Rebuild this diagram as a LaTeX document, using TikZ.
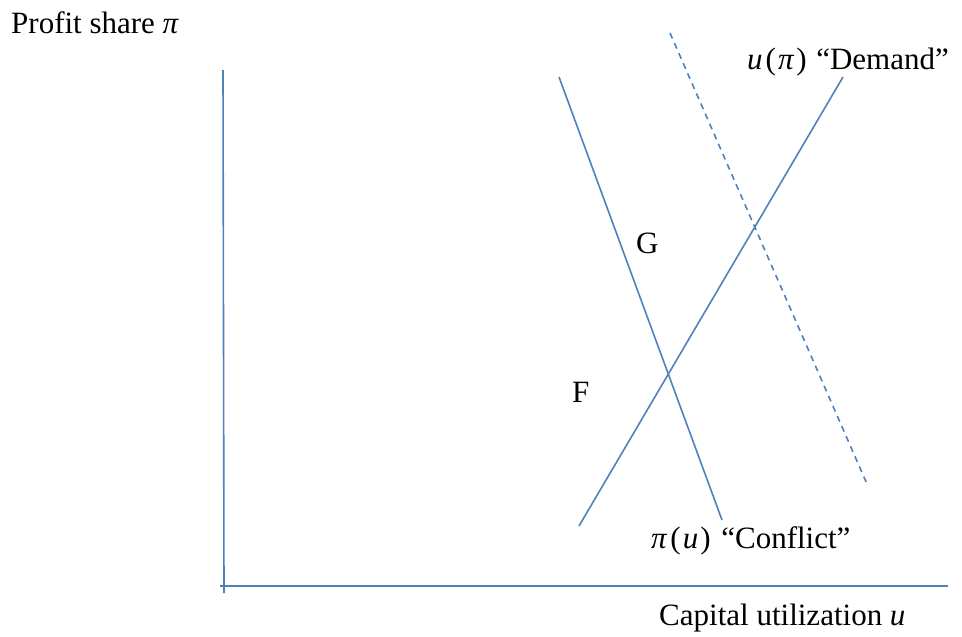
\documentclass[tikz,border=0pt]{standalone}
\usepackage{fontspec}
\setmainfont{Liberation Serif}
\begin{document}
\begin{tikzpicture}[x=1pt,y=-1pt,
  curve/.style={draw={rgb,255:red,79;green,129;blue,189}, line width=1.6pt},
  dashcurve/.style={curve, dash pattern=on 6pt off 5pt},
  lbl/.style={inner sep=0pt, anchor=base west, font=\fontsize{31}{37}\selectfont}]
\useasboundingbox (0,0) rectangle (962,637);
% axes
\coordinate (ytop) at (223,70);
\coordinate (ybot) at (224,593);
\coordinate (xleft) at (220,586);
\coordinate (xright) at (948,586);
\draw[curve] (ytop) -- (ybot);
\draw[curve] (xleft) -- (xright);
% curves
\coordinate (c1) at (559,77);
\coordinate (c2) at (722,520);
\coordinate (d1) at (579,526);
\coordinate (d2) at (843,77);
\coordinate (s1) at (670,33);
\coordinate (s2) at (867,484);
\draw[curve] (c1) -- (c2);
\draw[curve] (d1) -- (d2);
\draw[dashcurve] (s1) -- (s2);
% labels
\node[lbl] (ylab) at (11,33) {Profit share \textit{π}};
\node[lbl] (dlab) at (747,69) {\textit{u}\kern3pt(\kern2pt\textit{π}\kern2pt)\kern2pt{} “Demand”};
\node[lbl] (clab) at (651,548) {\textit{π}\kern3pt(\kern2pt\textit{u}\kern2pt)\kern3pt{} “Conflict”};
\node[lbl] (xlab) at (659,625) {Capital utilization \textit{u}};
\node[lbl] (G) at (636,253) {G};
\node[lbl] (F) at (572,402) {F};
\end{tikzpicture}
\end{document}
